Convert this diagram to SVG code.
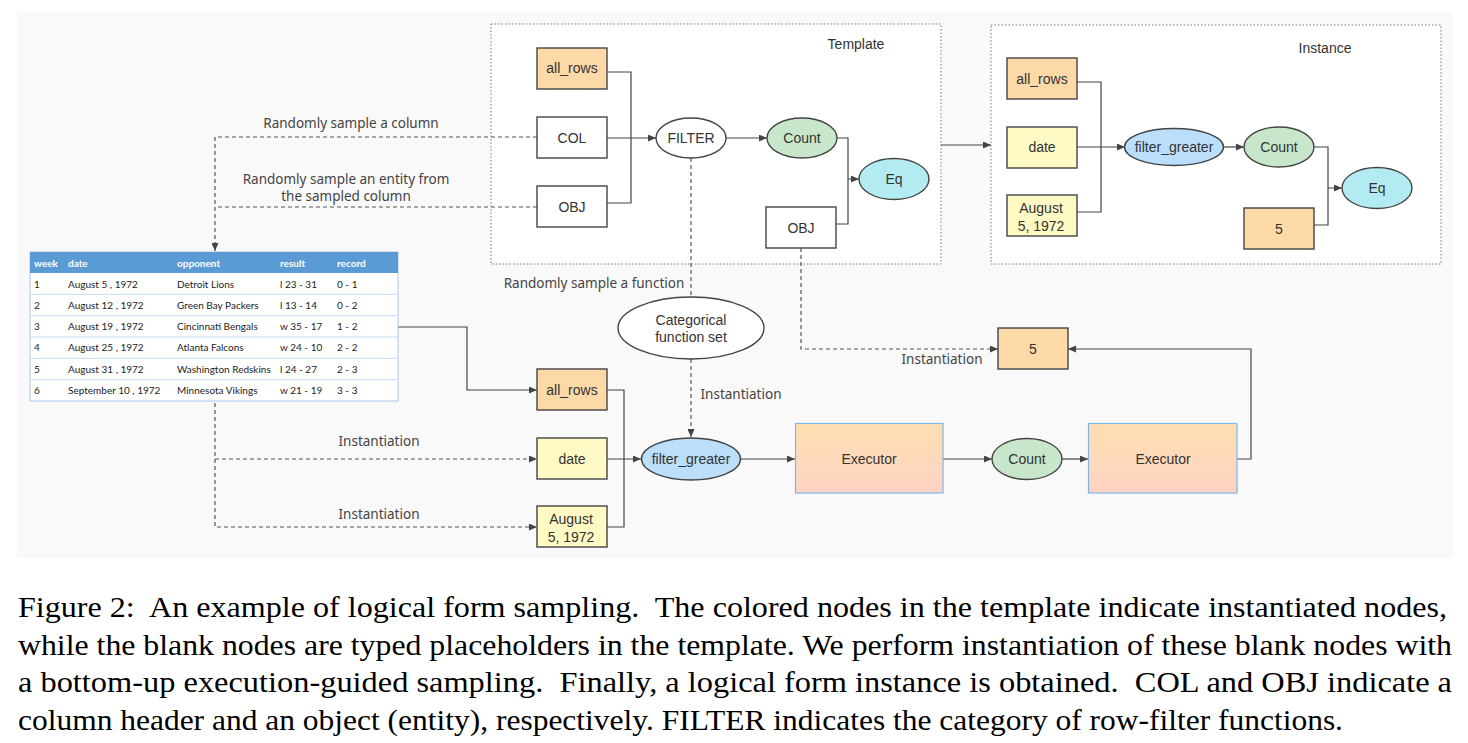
<svg xmlns="http://www.w3.org/2000/svg" width="1468" height="743" viewBox="0 0 1468 743">
<defs>
<marker id="arr" markerWidth="8" markerHeight="7" refX="8" refY="3.5" orient="auto" markerUnits="userSpaceOnUse">
<path d="M0,0 L8,3.5 L0,7 z" fill="#444"/>
</marker>
<linearGradient id="exg" x1="0" y1="0" x2="0" y2="1">
<stop offset="0" stop-color="#ffdfb0"/>
<stop offset="1" stop-color="#ffd3c5"/>
</linearGradient>
<style>
.box{stroke:#444;stroke-width:1.4}
.w{fill:#fff}
.or{fill:#fdd9a8}
.ye{fill:#fff9c4}
.gr{fill:#c8e6c9}
.cy{fill:#b2ebf2}
.bl{fill:#bbdefb}
.nt{font-family:"Liberation Sans",Arial,sans-serif;font-size:14px;fill:#333;text-anchor:middle}
.lb{font-family:"Noto Sans","Liberation Sans",sans-serif;font-size:13.5px;fill:#444}
.ln{fill:none;stroke:#444;stroke-width:1.2}
.ds{fill:none;stroke:#555;stroke-width:1.2;stroke-dasharray:4 3}
.frame{fill:#fff;stroke:#777;stroke-width:1;stroke-dasharray:1.5 2}
.tt{font-family:Lato,"Open Sans",sans-serif;font-size:10px;fill:#222}
.th{font-family:Lato,"Open Sans",sans-serif;font-size:10px;fill:#fff;font-weight:bold}
.cap{font-family:"Liberation Serif","Times New Roman",serif;font-size:30px;fill:#000}
</style>
</defs>
<rect x="17" y="12" width="1436" height="546" fill="#f9f9f9"/>
<g id="template-frame">
<rect class="frame" x="491" y="24" width="450" height="240"/>
<text class="nt" x="856" y="49">Template</text>
</g>
<g id="instance-frame">
<rect class="frame" x="991" y="25" width="450" height="239"/>
<text class="nt" x="1325" y="53">Instance</text>
</g>
<g id="connectors">
<polyline class="ln" points="607,72 631,72 631,203 607,203"/>
<line class="ln" x1="607" y1="138" x2="656" y2="138" marker-end="url(#arr)"/>
<line class="ln" x1="726" y1="138" x2="767" y2="138" marker-end="url(#arr)"/>
<polyline class="ln" points="837,138 848,138 848,179 859,179" marker-end="url(#arr)"/>
<polyline class="ln" points="836,224 848,224 848,179"/>
<line class="ln" x1="941" y1="145" x2="991" y2="145" marker-end="url(#arr)"/>
<polyline class="ln" points="1077,82 1101,82 1101,212 1077,212"/>
<line class="ln" x1="1077" y1="147" x2="1125" y2="147" marker-end="url(#arr)"/>
<line class="ln" x1="1224" y1="147" x2="1244" y2="147" marker-end="url(#arr)"/>
<polyline class="ln" points="1314,147 1328,147 1328,188 1342,188" marker-end="url(#arr)"/>
<polyline class="ln" points="1314,225 1328,225 1328,188"/>
<polyline class="ds" points="537,137 215,137 215,251" marker-end="url(#arr)"/>
<line class="ds" x1="537" y1="207" x2="215" y2="207"/>
<line class="ds" x1="691" y1="158" x2="691" y2="297"/>
<line class="ds" x1="691" y1="359" x2="691" y2="437" marker-end="url(#arr)"/>
<polyline class="ds" points="801,248 801,349 998,349" marker-end="url(#arr)"/>
<polyline class="ds" points="215,403 215,527 537,527" marker-end="url(#arr)"/>
<line class="ds" x1="215" y1="459" x2="537" y2="459" marker-end="url(#arr)"/>
<polyline class="ln" points="398,327 467,327 467,390 537,390" marker-end="url(#arr)"/>
<polyline class="ln" points="607,390 624,390 624,527 607,527"/>
<line class="ln" x1="607" y1="459" x2="641" y2="459" marker-end="url(#arr)"/>
<line class="ln" x1="740" y1="459" x2="795" y2="459" marker-end="url(#arr)"/>
<line class="ln" x1="943" y1="459" x2="992" y2="459" marker-end="url(#arr)"/>
<line class="ln" x1="1061" y1="459" x2="1088" y2="459" marker-end="url(#arr)"/>
<polyline class="ln" points="1237,459 1251,459 1251,349 1068,349" marker-end="url(#arr)"/>
</g>
<g id="labels">
<text class="lb" x="351" y="128" text-anchor="middle">Randomly sample a column</text>
<text class="lb" x="346" y="184" text-anchor="middle">Randomly sample an entity from</text>
<text class="lb" x="346" y="201" text-anchor="middle">the sampled column</text>
<text class="lb" x="594" y="288" text-anchor="middle">Randomly sample a function</text>
<text class="lb" x="741" y="399" text-anchor="middle">Instantiation</text>
<text class="lb" x="942" y="364" text-anchor="middle">Instantiation</text>
<text class="lb" x="379" y="446" text-anchor="middle">Instantiation</text>
<text class="lb" x="379" y="519" text-anchor="middle">Instantiation</text>
</g>
<g id="t-all_rows"><rect class="box or" x="537" y="48" width="70" height="41"/><text class="nt" x="572" y="73">all_rows</text></g>
<g id="t-col"><rect class="box w" x="537" y="117" width="70" height="41"/><text class="nt" x="572" y="143">COL</text></g>
<g id="t-obj"><rect class="box w" x="537" y="186" width="70" height="41"/><text class="nt" x="572" y="212">OBJ</text></g>
<g id="t-filter"><ellipse class="box w" cx="691" cy="138" rx="35" ry="20"/><text class="nt" x="691" y="143">FILTER</text></g>
<g id="t-count"><ellipse class="box gr" cx="802" cy="138" rx="35" ry="20"/><text class="nt" x="802" y="143">Count</text></g>
<g id="t-eq"><ellipse class="box cy" cx="894" cy="179" rx="35" ry="20.5"/><text class="nt" x="894" y="184">Eq</text></g>
<g id="t-obj2"><rect class="box w" x="766" y="207" width="70" height="41"/><text class="nt" x="801" y="233">OBJ</text></g>
<g id="i-all_rows"><rect class="box or" x="1007" y="58" width="70" height="41"/><text class="nt" x="1042" y="84">all_rows</text></g>
<g id="i-date"><rect class="box ye" x="1007" y="127" width="70" height="41"/><text class="nt" x="1042" y="152">date</text></g>
<g id="i-aug"><rect class="box ye" x="1007" y="195" width="70" height="41"/><text class="nt" x="1041" y="213">August</text><text class="nt" x="1041" y="231">5, 1972</text></g>
<g id="i-filter"><ellipse class="box bl" cx="1174" cy="147" rx="49.5" ry="18.5"/><text class="nt" x="1174" y="152">filter_greater</text></g>
<g id="i-count"><ellipse class="box gr" cx="1279" cy="147" rx="35" ry="20"/><text class="nt" x="1279" y="152">Count</text></g>
<g id="i-eq"><ellipse class="box cy" cx="1377" cy="188" rx="35" ry="20.5"/><text class="nt" x="1377" y="193">Eq</text></g>
<g id="i-five"><rect class="box or" x="1244" y="208" width="70" height="41"/><text class="nt" x="1279" y="234">5</text></g>
<g id="table">
<rect x="30" y="252" width="368" height="149" fill="#fff" stroke="#a9c9ea" stroke-width="1"/>
<rect x="30" y="252" width="368" height="21" fill="#5b9bd5"/>
<g stroke="#c5daf0" stroke-width="1">
<line x1="30" y1="294.3" x2="398" y2="294.3"/>
<line x1="30" y1="315.7" x2="398" y2="315.7"/>
<line x1="30" y1="337" x2="398" y2="337"/>
<line x1="30" y1="358.3" x2="398" y2="358.3"/>
<line x1="30" y1="379.7" x2="398" y2="379.7"/>
</g>
<text class="th" x="34" y="266.5">week</text><text class="th" x="68" y="266.5">date</text><text class="th" x="177" y="266.5">opponent</text><text class="th" x="280" y="266.5">result</text><text class="th" x="337" y="266.5">record</text>
<text class="tt" y="287.5"><tspan x="34">1</tspan><tspan x="68">August 5 , 1972</tspan><tspan x="177">Detroit Lions</tspan><tspan x="280">l 23 - 31</tspan><tspan x="337">0 - 1</tspan></text>
<text class="tt" y="308.8"><tspan x="34">2</tspan><tspan x="68">August 12 , 1972</tspan><tspan x="177">Green Bay Packers</tspan><tspan x="280">l 13 - 14</tspan><tspan x="337">0 - 2</tspan></text>
<text class="tt" y="330.1"><tspan x="34">3</tspan><tspan x="68">August 19 , 1972</tspan><tspan x="177">Cincinnati Bengals</tspan><tspan x="280">w 35 - 17</tspan><tspan x="337">1 - 2</tspan></text>
<text class="tt" y="351.4"><tspan x="34">4</tspan><tspan x="68">August 25 , 1972</tspan><tspan x="177">Atlanta Falcons</tspan><tspan x="280">w 24 - 10</tspan><tspan x="337">2 - 2</tspan></text>
<text class="tt" y="372.7"><tspan x="34">5</tspan><tspan x="68">August 31 , 1972</tspan><tspan x="177">Washington Redskins</tspan><tspan x="280">l 24 - 27</tspan><tspan x="337">2 - 3</tspan></text>
<text class="tt" y="394"><tspan x="34">6</tspan><tspan x="68">September 10 , 1972</tspan><tspan x="177">Minnesota Vikings</tspan><tspan x="280">w 21 - 19</tspan><tspan x="337">3 - 3</tspan></text>
</g>
<g id="categorical"><ellipse class="box w" cx="691" cy="328" rx="73" ry="31"/><text class="nt" x="691" y="325">Categorical</text><text class="nt" x="691" y="342">function set</text></g>
<g id="b-all_rows"><rect class="box or" x="537" y="369" width="70" height="41"/><text class="nt" x="572" y="395">all_rows</text></g>
<g id="b-date"><rect class="box ye" x="537" y="438" width="70" height="41"/><text class="nt" x="572" y="464">date</text></g>
<g id="b-aug"><rect class="box ye" x="537" y="506" width="70" height="41"/><text class="nt" x="571" y="524">August</text><text class="nt" x="571" y="542">5, 1972</text></g>
<g id="b-filter"><ellipse class="box bl" cx="691" cy="459" rx="49.5" ry="21"/><text class="nt" x="691" y="464">filter_greater</text></g>
<g id="b-exec1"><rect x="795.5" y="423.5" width="147.5" height="69.5" fill="url(#exg)" stroke="#7eb6e8" stroke-width="1.2"/><text class="nt" x="869" y="464">Executor</text></g>
<g id="b-count"><ellipse class="box gr" cx="1027" cy="459" rx="35" ry="20.5"/><text class="nt" x="1027" y="464">Count</text></g>
<g id="b-exec2"><rect x="1088.5" y="423.5" width="148.5" height="69.5" fill="url(#exg)" stroke="#7eb6e8" stroke-width="1.2"/><text class="nt" x="1163" y="464">Executor</text></g>
<g id="b-five"><rect class="box or" x="998" y="328" width="70" height="41"/><text class="nt" x="1033" y="354">5</text></g>
<g id="caption">
<text class="cap" x="18" y="617" textLength="1429" lengthAdjust="spacingAndGlyphs">Figure 2:&#160; An example of logical form sampling.&#160; The colored nodes in the template indicate instantiated nodes,</text>
<text class="cap" x="18" y="655" textLength="1434" lengthAdjust="spacingAndGlyphs">while the blank nodes are typed placeholders in the template. We perform instantiation of these blank nodes with</text>
<text class="cap" x="18" y="692" textLength="1434" lengthAdjust="spacingAndGlyphs">a bottom-up execution-guided sampling.&#160; Finally, a logical form instance is obtained.&#160; COL and OBJ indicate a</text>
<text class="cap" x="18" y="730" textLength="1325" lengthAdjust="spacingAndGlyphs">column header and an object (entity), respectively. FILTER indicates the category of row-filter functions.</text>
</g>
</svg>
